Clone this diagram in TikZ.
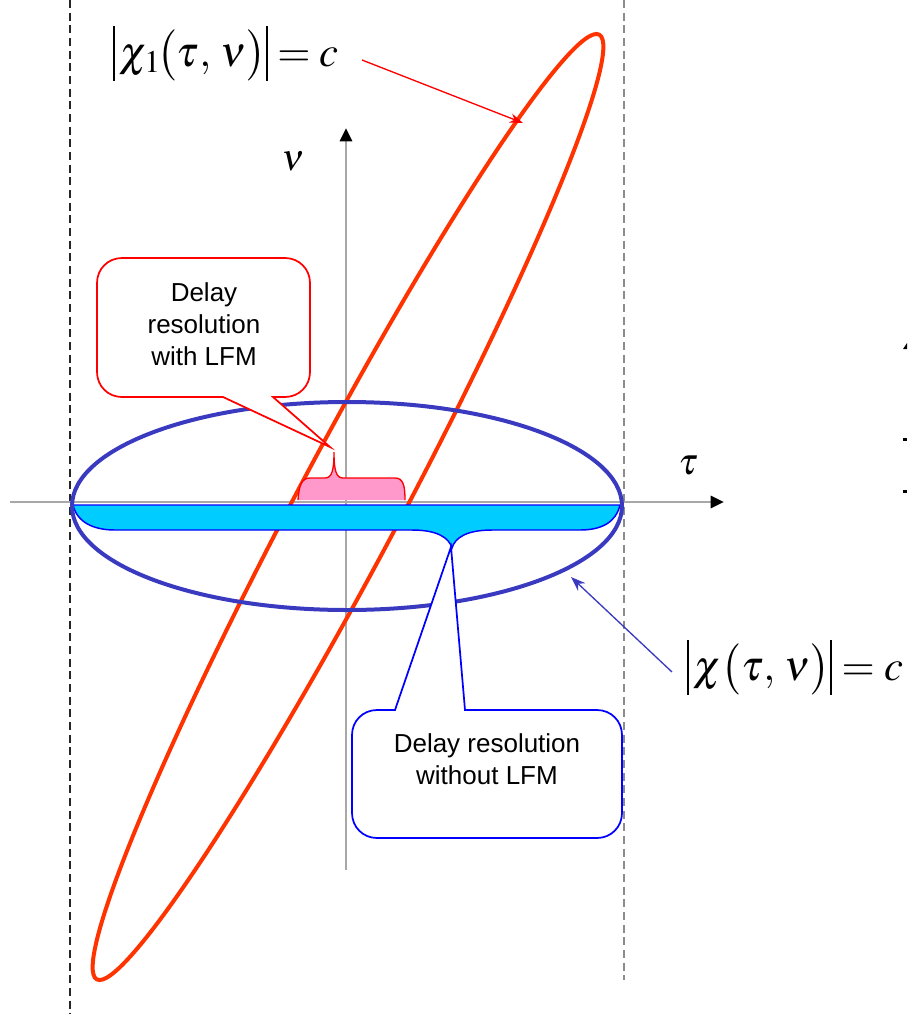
\documentclass[tikz,border=0pt]{standalone}
\usepackage{mathptmx}
\usepackage{fontspec}
\setmainfont{Liberation Sans}
\usetikzlibrary{arrows.meta}
\definecolor{ellred}{HTML}{FF3300}
\definecolor{ellblue}{HTML}{3A3AC0}
\definecolor{cyanfill}{HTML}{00CCFF}
\definecolor{pinkfill}{HTML}{FF99CC}
\definecolor{axisgray}{HTML}{A8A8A8}
\newcommand{\tallbar}{\rule[-3.5pt]{0.45pt}{12.9pt}}
\begin{document}
\begin{tikzpicture}[x=0.75pt,y=-0.75pt,
  axisline/.style={axisgray,line width=2.2pt,-{Triangle[color=black,length=10pt,width=9pt]}},
  guide/.style={line width=0.9pt,dash pattern=on 6pt off 3.5pt},
  calltext/.style={align=center,font=\fontsize{19.5}{24}\selectfont,inner sep=0pt},
  mathlabel/.style={inner sep=0pt,anchor=base},
  redcall/.style={draw=red,line width=1.3pt,fill=white},
  bluecall/.style={draw=blue,line width=1.3pt,fill=white},
  pointer/.style={line width=1pt}]
\useasboundingbox (0,0) rectangle (907,1014);

% guide lines
\coordinate (gl1) at (70,0); \coordinate (gl2) at (70,1014);
\coordinate (gr1) at (624,0); \coordinate (gr2) at (624,980);
\draw[guide,black!85] (gl1) -- (gl2);
\draw[guide,black!45] (gr1) -- (gr2);

% axes
\coordinate (xs) at (10,502); \coordinate (xe) at (724,502);
\coordinate (ys) at (346,870); \coordinate (ye) at (346,128);
\draw[axisline] (xs) -- (xe);
\draw[axisline] (ys) -- (ye);

% red (LFM) ellipse
\draw[ellred,line width=3pt,shift={(348,507)},rotate=62] (0,0) ellipse [x radius=535,y radius=52];

% pink brace
\fill[pinkfill] (298,500) .. controls (299,485) and (302,478) .. (310,478) -- (325,478)
  .. controls (332,478) and (334,470) .. (334,452) .. controls (334,470) and (336,478) .. (343,478)
  -- (395,478) .. controls (403,478) and (405,485) .. (405,500) -- cycle;
\draw[red,line width=1pt] (298,500) .. controls (299,485) and (302,478) .. (310,478) -- (325,478)
  .. controls (332,478) and (334,470) .. (334,452) .. controls (334,470) and (336,478) .. (343,478)
  -- (395,478) .. controls (403,478) and (405,485) .. (405,500);

% cyan brace
\draw[blue,line width=1.1pt,fill=cyanfill] (73,505) -- (620,505)
  .. controls (616,522) and (602,530) .. (580,530) -- (492,530)
  .. controls (466,530) and (455,538) .. (452,548)
  .. controls (449,538) and (438,530) .. (412,530) -- (115,530)
  .. controls (93,530) and (77,522) .. (73,505) -- cycle;

% blue ellipse
\draw[ellblue,line width=3pt] (347,506) ellipse [x radius=275,y radius=104];

% red callout
\draw[redcall] (330,447) -- (223,397) -- (122,397) .. controls (108,397) and (97,386) .. (97,372)
  -- (97,283) .. controls (97,269) and (108,258) .. (122,258) -- (285,258)
  .. controls (299,258) and (310,269) .. (310,283) -- (310,372)
  .. controls (310,386) and (299,397) .. (285,397) -- (273,397) -- cycle;
\node[calltext] (withlfm) at (204,324) {Delay\\resolution\\with LFM};

% blue callout
\draw[bluecall] (451,547) -- (465,710) -- (597,710) .. controls (611,710) and (622,721) .. (622,735)
  -- (622,813) .. controls (622,827) and (611,838) .. (597,838) -- (377,838)
  .. controls (363,838) and (352,827) .. (352,813) -- (352,735)
  .. controls (352,721) and (363,710) .. (377,710) -- (395,710) -- cycle;
\node[calltext] (withoutlfm) at (487,759) {Delay resolution\\without LFM};

% math labels
\node[mathlabel] (lab1) at (226,66) {\scalebox{3.2}{$\tallbar\,\chi_1\!\big(\tau,\,\nu\big)\tallbar=c$}};
\node[mathlabel] (lab2) at (795,680) {\scalebox{3.2}{$\tallbar\,\chi\big(\tau,\,\nu\big)\tallbar=c$}};
\node[mathlabel] (nu) at (293,170) {\scalebox{2.8}{$\nu$}};
\node[mathlabel] (tau) at (688,474) {\scalebox{2.8}{$\tau$}};

% pointers
\coordinate (rs) at (362,60); \coordinate (rt) at (523,123);
\draw[pointer,red,-{Stealth[length=10pt,width=7pt]}] (rs) -- (rt);
\coordinate (bs) at (672,672); \coordinate (bt) at (571,577);
\draw[pointer,ellblue,-{Stealth[length=11pt,width=8pt]}] (bs) -- (bt);

% clipped fragments at right edge
\fill (903,349) -- (907,343) -- (907,349) -- cycle;
\fill (903,438) rectangle (907,441);
\fill (903,490) rectangle (907,493);
\end{tikzpicture}
\end{document}
